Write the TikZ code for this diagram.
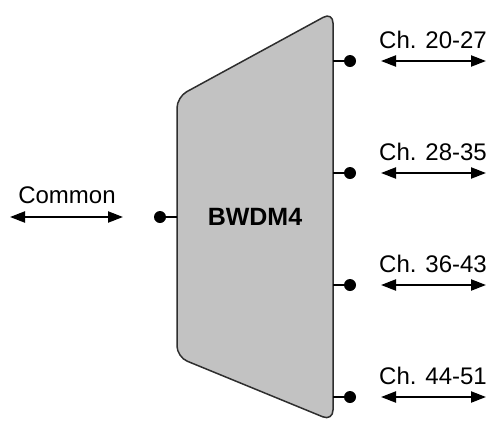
\documentclass[tikz,border=0pt]{standalone}
\usepackage{fontspec}
\setmainfont{Liberation Sans}
\usetikzlibrary{arrows.meta,positioning}
\definecolor{BodyGray}{HTML}{C2C2C2}
\definecolor{Edge}{HTML}{2E2E2E}
\tikzset{
  mux/.style={draw=Edge,fill=BodyGray,line width=1.5pt,rounded corners=11pt},
  pin/.style={circle,fill=black,inner sep=0pt,minimum size=12pt},
  lead/.style={line width=1.8pt},
  biarrow/.style={{Triangle[length=15pt,width=11pt]}-{Triangle[length=15pt,width=11pt]},line width=2.2pt},
  lbl/.style={font=\fontsize{24}{27}\selectfont,inner sep=0pt}
}
\begin{document}
\begin{tikzpicture}[x=1pt,y=-1pt]
  \useasboundingbox (0,0) rectangle (490,421);
  % filter body
  \draw[mux] (177,357) -- (177,97) -- (333,12) -- (333,421) -- cycle;
  \node[font=\fontsize{25}{28}\selectfont\bfseries] (bwdm) at (255,217) {BWDM4};

  % common port
  \coordinate (comedge) at (177,217);
  \node[pin] (compin) at (160,217) {};
  \draw[lead] (compin) -- (comedge);
  \coordinate (coma) at (10,217);
  \coordinate (comb) at (123,217);
  \draw[biarrow] (coma) -- (comb);
  \node[lbl] (comlbl) at (67,195) {Common};

  % channel ports
  \foreach \y/\ch [count=\i] in {61/20-27,173/28-35,285/36-43,397/44-51}{
    \coordinate (chedge\i) at (333,\y);
    \node[pin] (chpin\i) at (350,\y) {};
    \draw[lead] (chedge\i) -- (chpin\i);
    \coordinate (cha\i) at (381,\y);
    \coordinate (chb\i) at (486,\y);
    \draw[biarrow] (cha\i) -- (chb\i);
    \node[lbl] (chlbl\i) at (433,\y-21) {Ch. \ch};
  }
\end{tikzpicture}
\end{document}
